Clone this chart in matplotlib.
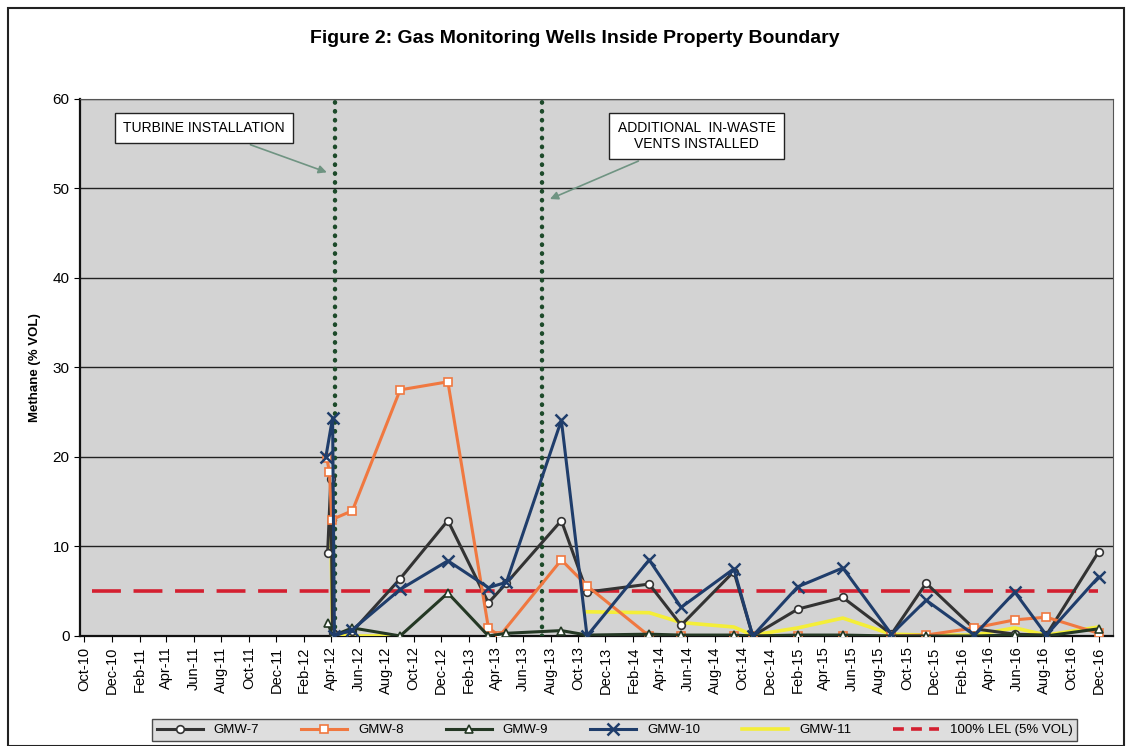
import matplotlib
matplotlib.use("Agg")
import matplotlib.pyplot as plt
import matplotlib.dates as mdates
import matplotlib.patches as patches
import pandas as pd
import numpy as np

plt.rcParams['font.family'] = ['Liberation Sans', 'DejaVu Sans']

# ---- data ----
gmw7_dates = ["2012-03-24", "2012-03-31", "2012-04-04", "2012-05-18", "2012-09-01",
              "2012-12-16", "2013-03-16", "2013-04-25", "2013-08-25", "2013-10-21",
              "2014-03-08", "2014-05-18", "2014-09-12", "2014-10-24", "2015-02-01",
              "2015-05-12", "2015-08-28", "2015-11-13", "2016-02-28", "2016-05-28",
              "2016-08-06", "2016-11-30"]
gmw7_vals = [9.3, 17.5, 0.3, 0.5, 6.4, 12.9, 3.7, 5.9, 12.9, 4.9,
             5.8, 1.2, 7.2, 0.0, 3.0, 4.3, 0.2, 5.9, 0.8, 0.2, 0.1, 9.4]

gmw8_dates = ["2012-03-22", "2012-03-28", "2012-04-02", "2012-05-18", "2012-09-01",
              "2012-12-16", "2013-03-16", "2013-04-10", "2013-08-25", "2013-10-21",
              "2014-03-08", "2014-05-18", "2014-09-12", "2014-10-24", "2015-02-01",
              "2015-05-12", "2015-08-28", "2015-11-13", "2016-02-28", "2016-05-28",
              "2016-08-06", "2016-11-30"]
gmw8_vals = [19.9, 18.3, 13.0, 14.0, 27.5, 28.4, 0.9, 0.0, 8.5, 5.6,
             0.0, 0.0, 0.0, 0.0, 0.0, 0.0, 0.0, 0.1, 0.9, 1.8, 2.1, 0.3]

gmw9_dates = ["2012-03-24", "2012-04-04", "2012-05-18", "2012-09-01", "2012-12-16",
              "2013-03-16", "2013-04-25", "2013-08-25", "2013-10-21", "2014-03-08",
              "2014-05-18", "2014-09-12", "2014-10-24", "2015-02-01", "2015-05-12",
              "2015-08-28", "2015-11-13", "2016-02-28", "2016-05-28", "2016-08-06",
              "2016-11-30"]
gmw9_vals = [1.5, 0.0, 0.9, 0.0, 4.8, 0.0, 0.3, 0.6, 0.1, 0.2,
             0.1, 0.1, 0.0, 0.1, 0.1, 0.0, 0.0, 0.0, 0.1, 0.0, 0.8]

gmw10_dates = ["2012-03-20", "2012-04-04", "2012-04-08", "2012-05-18", "2012-09-01",
               "2012-12-16", "2013-03-16", "2013-04-25", "2013-08-25", "2013-10-21",
               "2014-03-08", "2014-05-18", "2014-09-12", "2014-10-24", "2015-02-01",
               "2015-05-12", "2015-08-28", "2015-11-13", "2016-02-28", "2016-05-28",
               "2016-08-06", "2016-11-30"]
gmw10_vals = [20.0, 24.4, 0.0, 0.7, 5.2, 8.4, 5.4, 6.0, 24.1, 0.0,
              8.5, 3.2, 7.5, 0.0, 5.5, 7.6, 0.2, 4.0, 0.1, 4.9, 0.1, 6.6]

gmw11_dates = ["2012-03-31", "2012-04-04", "2012-05-18", "2012-09-01", "2013-06-01",
               "2013-10-21", "2014-03-08", "2014-05-18", "2014-09-12", "2014-10-24",
               "2015-02-01", "2015-05-12", "2015-08-28", "2015-11-13", "2016-02-28",
               "2016-05-28", "2016-08-06", "2016-11-30"]
gmw11_vals = [12.5, 0.2, 0.0, 0.0, np.nan, 2.7, 2.6, 1.5, 1.0, 0.1,
              0.9, 2.0, 0.2, 0.1, 0.1, 0.9, 0.1, 1.0]

lel_value = 5
turbine_date = "2012-04-10"
vents_date = "2013-07-13"

tick_dates = pd.date_range("2010-10-01", "2016-12-01", freq="2MS")

# ---- figure ----
fig = plt.figure(figsize=(11.28, 7.46), dpi=100)
fig.patch.set_facecolor("white")
ax = fig.add_axes([0.0709, 0.1475, 0.9158, 0.7198])
ax.set_facecolor("#d3d3d3")

ax.set_xlim(pd.Timestamp("2010-09-21"), pd.Timestamp("2017-01-01"))
ax.set_ylim(0, 60)
ax.set_yticks(range(0, 61, 10))
ax.yaxis.grid(True, color="#222222", linewidth=1.0)
ax.set_axisbelow(True)

ax.axhline(lel_value, xmin=0.012, xmax=0.985, color="#d41f30", linewidth=2.6,
           linestyle=(0, (8, 3.5)), zorder=2)

dot = dict(color="#1d4a2a", linewidth=3.2, linestyle=(0, (0.1, 1.9)),
           dash_capstyle="round", zorder=3)
ax.axvline(pd.Timestamp(turbine_date), **dot)
ax.axvline(pd.Timestamp(vents_date), **dot)

series = [
    ("GMW-7", gmw7_dates, gmw7_vals, "#333333", "o", 5.5),
    ("GMW-8", gmw8_dates, gmw8_vals, "#f07840", "s", 6),
    ("GMW-9", gmw9_dates, gmw9_vals, "#243824", "^", 6),
    ("GMW-10", gmw10_dates, gmw10_vals, "#1f3d6b", "x", 8),
    ("GMW-11", gmw11_dates, gmw11_vals, "#f4ee38", None, 0),
]
handles = []
for name, d, v, col, mk, ms in series:
    if mk == "x":
        h, = ax.plot(pd.to_datetime(d), v, color=col, linewidth=2.2, marker=mk,
                     markersize=ms, markeredgewidth=1.8, label=name, zorder=5)
    elif mk:
        h, = ax.plot(pd.to_datetime(d), v, color=col, linewidth=2.2, marker=mk,
                     markersize=ms, markerfacecolor="white", markeredgecolor=col,
                     markeredgewidth=1.2, label=name, zorder=5)
    else:
        h, = ax.plot(pd.to_datetime(d), v, color=col, linewidth=2.6, label=name, zorder=4)
    handles.append(h)
lel_h, = ax.plot([], [], color="#d41f30", linewidth=2.6, linestyle=(0, (3, 2)),
                 label="100% LEL (5% VOL)")
handles.append(lel_h)

ax.set_xticks(tick_dates)
ax.xaxis.set_major_formatter(mdates.DateFormatter("%b-%y"))
plt.setp(ax.get_xticklabels(), rotation=90, fontsize=10.5)
plt.setp(ax.get_yticklabels(), fontsize=11)
ax.tick_params(axis="x", length=4, direction="out")
ax.tick_params(axis="y", length=4, direction="out")
for s in ["top", "right"]:
    ax.spines[s].set_color("#555555")
    ax.spines[s].set_linewidth(0.8)
for s in ["left", "bottom"]:
    ax.spines[s].set_color("#111111")
    ax.spines[s].set_linewidth(1.6)

ax.set_ylabel("Methane (% VOL)", fontsize=9.5, fontweight="bold", labelpad=8)

fig.text(0.51, 0.948, "Figure 2: Gas Monitoring Wells Inside Property Boundary",
         ha="center", va="center", fontsize=14, fontweight="bold",
         family=["Liberation Sans Narrow", "Liberation Sans", "DejaVu Sans"])

# annotations
box = dict(boxstyle="square,pad=0.6", facecolor="white", edgecolor="#222222", linewidth=1)
arrow = dict(arrowstyle="-|>", color="#6f9482", linewidth=1.2, mutation_scale=12)
ax.annotate("TURBINE INSTALLATION", xy=(pd.Timestamp("2012-03-28"), 51.7),
            xytext=(0.12, 0.946), textcoords="axes fraction", ha="center", va="center",
            fontsize=10, bbox=box, arrowprops=arrow, zorder=6)
ax.annotate("ADDITIONAL  IN-WASTE\nVENTS INSTALLED", xy=(pd.Timestamp("2013-07-25"), 48.7),
            xytext=(0.597, 0.931), textcoords="axes fraction", ha="center", va="center",
            fontsize=10, bbox=box, arrowprops=arrow, zorder=6, linespacing=1.2)

leg = fig.legend(handles=handles, loc="center", bbox_to_anchor=(0.545, 0.0214), ncol=6,
                 frameon=True, fontsize=9.5, handlelength=3.5, columnspacing=3.2,
                 borderpad=0.35, fancybox=False)
leg.get_frame().set_facecolor("#d6d6d6")
leg.get_frame().set_edgecolor("#222222")

# outer chart border
fig.patches.append(patches.Rectangle((8 / 1128, 0), 1116 / 1128, 1 - 8 / 746,
                                     transform=fig.transFigure, fill=False,
                                     edgecolor="#222222", linewidth=1.5))

fig.savefig("out.png", dpi=100)
